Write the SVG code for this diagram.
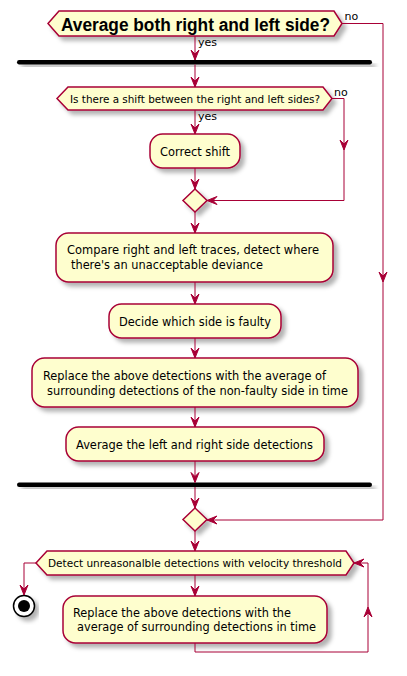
<svg xmlns="http://www.w3.org/2000/svg" width="407" height="676" viewBox="0 0 407 676">
<defs>
<filter id="sh" x="-10%" y="-20%" width="130%" height="160%">
<feGaussianBlur in="SourceAlpha" stdDeviation="2"/>
<feOffset dx="4" dy="4" result="b"/>
<feFlood flood-color="#000" flood-opacity="0.3"/>
<feComposite in2="b" operator="in" result="s"/>
<feMerge><feMergeNode in="s"/><feMergeNode in="SourceGraphic"/></feMerge>
</filter>
</defs>
<style>
.n{fill:#FEFECE;stroke:#A80036;stroke-width:1.5;filter:url(#sh)}
.bar{fill:#000;stroke:none;filter:url(#sh)}
.t{font-family:"DejaVu Sans","Liberation Sans",sans-serif;font-size:12.5px;fill:#000}
.s{font-family:"DejaVu Sans","Liberation Sans",sans-serif;font-size:11px;fill:#000}
.b{font-family:"Liberation Sans",Arial,sans-serif;font-size:17.5px;font-weight:bold;fill:#000}
.c{fill:none;stroke:#A80036;stroke-width:1}
.a{fill:#A80036;stroke:#A80036;stroke-width:1}
</style>
<rect width="407" height="676" fill="#FFFFFF"/>

<g id="q1">
<polygon class="n" points="48,23.5 59,11 334,11 342,23.5 334,36 59,36"/>
<text class="b" x="61" y="30.5" textLength="269" lengthAdjust="spacingAndGlyphs">Average both right and left side?</text>
</g>

<g id="fork1"><rect class="bar" x="17" y="60" width="355" height="4.5" rx="2.2"/></g>

<g id="q2">
<polygon class="n" points="57,98.5 68,87 323,87 332,98.5 323,110 68,110"/>
<text class="s" x="70" y="102.5" textLength="250" lengthAdjust="spacingAndGlyphs">Is there a shift between the right and left sides?</text>
</g>

<g id="correct">
<rect class="n" x="150" y="134" width="90" height="34" rx="12.5"/>
<text class="t" x="160" y="156" textLength="70" lengthAdjust="spacingAndGlyphs">Correct shift</text>
</g>

<g id="merge1"><polygon class="n" points="195,189 207,200.5 195,212 183,200.5"/></g>

<g id="compare">
<rect class="n" x="56" y="233" width="277" height="49" rx="12.5"/>
<text class="t" x="67" y="254" textLength="252" lengthAdjust="spacingAndGlyphs">Compare right and left traces, detect where</text>
<text class="t" x="71" y="268.5" textLength="192" lengthAdjust="spacingAndGlyphs">there's an unacceptable deviance</text>
</g>

<g id="decide">
<rect class="n" x="109" y="304" width="172" height="34" rx="12.5"/>
<text class="t" x="119" y="326" textLength="152" lengthAdjust="spacingAndGlyphs">Decide which side is faulty</text>
</g>

<g id="replace1">
<rect class="n" x="32" y="358" width="326" height="49" rx="12.5"/>
<text class="t" x="43" y="380" textLength="283" lengthAdjust="spacingAndGlyphs">Replace the above detections with the average of</text>
<text class="t" x="47" y="395" textLength="301" lengthAdjust="spacingAndGlyphs">surrounding detections of the non-faulty side in time</text>
</g>

<g id="average">
<rect class="n" x="66" y="427" width="258" height="34" rx="12.5"/>
<text class="t" x="76" y="449" textLength="237" lengthAdjust="spacingAndGlyphs">Average the left and right side detections</text>
</g>

<g id="fork2"><rect class="bar" x="17" y="482.5" width="355" height="4.5" rx="2.2"/></g>

<g id="merge2"><polygon class="n" points="195,508 207,519.5 195,531 183,519.5"/></g>

<g id="q3">
<polygon class="n" points="36,563 47,551 346,551 354,563 346,575 47,575"/>
<text class="s" x="48" y="567" textLength="294" lengthAdjust="spacingAndGlyphs">Detect unreasonalble detections with velocity threshold</text>
</g>

<g id="replace2">
<rect class="n" x="63" y="596" width="264" height="47" rx="12.5"/>
<text class="t" x="73" y="617" textLength="218" lengthAdjust="spacingAndGlyphs">Replace the above detections with the</text>
<text class="t" x="77" y="631" textLength="239" lengthAdjust="spacingAndGlyphs">average of surrounding detections in time</text>
</g>

<g id="stop">
<circle cx="24" cy="606" r="10.5" fill="#FFFFFF" stroke="#000" stroke-width="1.5" filter="url(#sh)"/>
<circle cx="24" cy="606" r="6" fill="#000"/>
</g>

<g id="connectors">
<path class="c" d="M195,36 V60"/>
<polygon class="a" points="191,50 195,60 199,50 195,54"/>
<text class="s" x="198" y="46">yes</text>

<path class="c" d="M342,23.5 H383 V520 H207"/>
<polygon class="a" points="379,272 383,282 387,272 383,276"/>
<polygon class="a" points="217,516 207,520 217,524 213,520"/>
<text class="s" x="344.5" y="20">no</text>

<path class="c" d="M195,64.5 V87"/>
<polygon class="a" points="191,77 195,87 199,77 195,81"/>

<path class="c" d="M195,110 V134"/>
<polygon class="a" points="191,124 195,134 199,124 195,128"/>
<text class="s" x="198" y="120">yes</text>

<path class="c" d="M332,98.5 H344 V200.5 H207"/>
<polygon class="a" points="340,140 344,150 348,140 344,144"/>
<polygon class="a" points="217,196.5 207,200.5 217,204.5 213,200.5"/>
<text class="s" x="334" y="96">no</text>

<path class="c" d="M195,168 V189"/>
<polygon class="a" points="191,179 195,189 199,179 195,183"/>

<path class="c" d="M195,212 V233"/>
<polygon class="a" points="191,223 195,233 199,223 195,227"/>

<path class="c" d="M195,282 V304"/>
<polygon class="a" points="191,294 195,304 199,294 195,298"/>

<path class="c" d="M195,338 V358"/>
<polygon class="a" points="191,348 195,358 199,348 195,352"/>

<path class="c" d="M195,407 V427"/>
<polygon class="a" points="191,417 195,427 199,417 195,421"/>

<path class="c" d="M195,461 V482.5"/>
<polygon class="a" points="191,472.5 195,482.5 199,472.5 195,476.5"/>

<path class="c" d="M195,487 V508"/>
<polygon class="a" points="191,498 195,508 199,498 195,502"/>

<path class="c" d="M195,531 V551"/>
<polygon class="a" points="191,541 195,551 199,541 195,545"/>

<path class="c" d="M36,563 H24 V595"/>
<polygon class="a" points="20,585 24,595 28,585 24,589"/>

<path class="c" d="M195,575 V596"/>
<polygon class="a" points="191,586 195,596 199,586 195,590"/>

<path class="c" d="M195,643 V652 H368 V563 H354"/>
<polygon class="a" points="364,617 368,607 372,617 368,613"/>
<polygon class="a" points="364,559 354,563 364,567 360,563"/>
</g>
</svg>
